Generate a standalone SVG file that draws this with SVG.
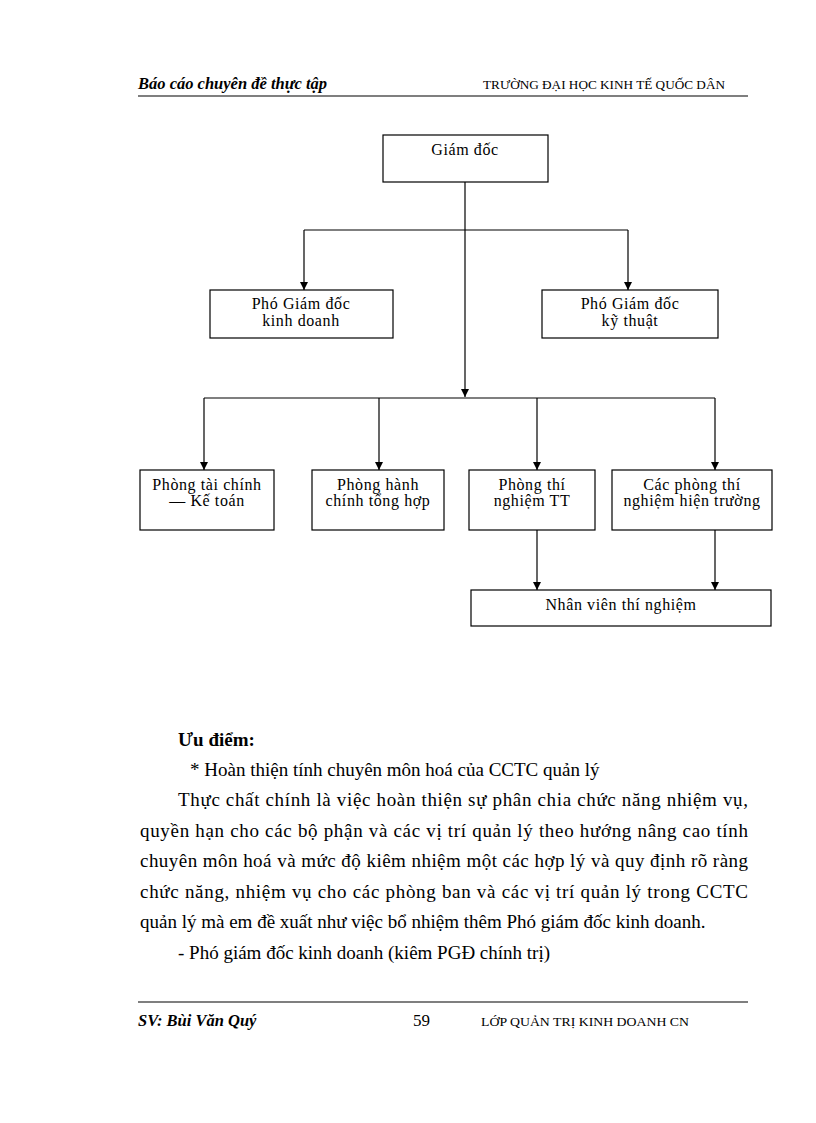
<svg xmlns="http://www.w3.org/2000/svg" width="816" height="1123" viewBox="0 0 816 1123">
<defs>
<marker id="arr" markerWidth="8" markerHeight="8" refX="8" refY="4" orient="auto" markerUnits="userSpaceOnUse" viewBox="0 0 8 8">
<path d="M0,0 L8,4 L0,8 Z" fill="#000"/>
</marker>
</defs>
<style>
.box{fill:#fff;stroke:#000;stroke-width:1.2}
.lbl{font-family:"Liberation Serif",serif;font-size:16px;letter-spacing:0.6px;fill:#000;text-anchor:middle}
.con{stroke:#000;stroke-width:1.2;fill:none}
.body{font-family:"Liberation Serif",serif;font-size:19px;fill:#000}
.hdr{font-family:"Liberation Serif",serif;fill:#000}
.rule{stroke:#000;stroke-width:1.2}
</style>
<rect width="816" height="1123" fill="#fff"/>
<g id="header">
<text class="hdr" x="138" y="89" font-size="16.5" font-weight="bold" font-style="italic">Báo cáo chuyên đề thực tập</text>
<text class="hdr" x="483" y="89" font-size="12.5" textLength="242" lengthAdjust="spacingAndGlyphs">TRƯỜNG ĐẠI HỌC KINH TẾ QUỐC DÂN</text>
<line class="rule" x1="138" y1="96" x2="748" y2="96"/>
</g>
<g id="connectors">
<line class="con" x1="465" y1="182" x2="465" y2="397" marker-end="url(#arr)"/>
<line class="con" x1="304" y1="230" x2="628" y2="230"/>
<line class="con" x1="304" y1="230" x2="304" y2="290" marker-end="url(#arr)"/>
<line class="con" x1="628" y1="230" x2="628" y2="290" marker-end="url(#arr)"/>
<line class="con" x1="204" y1="398" x2="715" y2="398"/>
<line class="con" x1="204" y1="398" x2="204" y2="470" marker-end="url(#arr)"/>
<line class="con" x1="379" y1="398" x2="379" y2="470" marker-end="url(#arr)"/>
<line class="con" x1="537" y1="398" x2="537" y2="470" marker-end="url(#arr)"/>
<line class="con" x1="715" y1="398" x2="715" y2="470" marker-end="url(#arr)"/>
<line class="con" x1="537" y1="530" x2="537" y2="590" marker-end="url(#arr)"/>
<line class="con" x1="715" y1="530" x2="715" y2="590" marker-end="url(#arr)"/>
</g>
<g id="giam-doc">
<rect class="box" x="383" y="135" width="165" height="47"/>
<text class="lbl" x="465" y="155">Giám đốc</text>
</g>
<g id="pgd-kinh-doanh">
<rect class="box" x="210" y="290" width="183" height="48"/>
<text class="lbl" x="301" y="309">Phó Giám đốc</text>
<text class="lbl" x="301" y="326">kinh doanh</text>
</g>
<g id="pgd-ky-thuat">
<rect class="box" x="542" y="290" width="176" height="48"/>
<text class="lbl" x="630" y="309">Phó Giám đốc</text>
<text class="lbl" x="630" y="326">kỹ thuật</text>
</g>
<g id="phong-tai-chinh">
<rect class="box" x="140" y="470" width="134" height="60"/>
<text class="lbl" x="207" y="490">Phòng tài chính</text>
<text class="lbl" x="207" y="506">— Kế toán</text>
</g>
<g id="phong-hanh-chinh">
<rect class="box" x="312" y="470" width="132" height="60"/>
<text class="lbl" x="378" y="490">Phòng hành</text>
<text class="lbl" x="378" y="506">chính tổng hợp</text>
</g>
<g id="phong-thi-nghiem-tt">
<rect class="box" x="469" y="470" width="126" height="60"/>
<text class="lbl" x="532" y="490">Phòng thí</text>
<text class="lbl" x="532" y="506">nghiệm  TT</text>
</g>
<g id="phong-thi-nghiem-hien-truong">
<rect class="box" x="612" y="470" width="160" height="60"/>
<text class="lbl" x="692" y="490">Các phòng thí</text>
<text class="lbl" x="692" y="506" letter-spacing="0">nghiệm hiện trường</text>
</g>
<g id="nhan-vien">
<rect class="box" x="471" y="590" width="300" height="36"/>
<text class="lbl" x="621" y="610">Nhân viên thí nghiệm</text>
</g>
<g id="body-text">
<text class="body" x="178" y="746" font-weight="bold">Ưu điểm:</text>
<text class="body" x="190" y="776">* Hoàn thiện tính chuyên môn hoá của CCTC quản lý</text>
<text class="body" x="178" y="806" textLength="570" lengthAdjust="spacing">Thực chất chính là việc hoàn thiện sự phân chia chức năng nhiệm vụ,</text>
<text class="body" x="140" y="837" textLength="608" lengthAdjust="spacing">quyền hạn cho các bộ phận và các vị trí quản lý theo hướng nâng cao tính</text>
<text class="body" x="140" y="867" textLength="608" lengthAdjust="spacing">chuyên môn hoá và mức độ kiêm nhiệm một các hợp lý và quy định rõ ràng</text>
<text class="body" x="140" y="898" textLength="608" lengthAdjust="spacing">chức năng, nhiệm vụ cho các phòng ban và các vị trí quản lý trong CCTC</text>
<text class="body" x="140" y="928">quản lý mà em đề xuất như việc bổ nhiệm thêm Phó giám đốc kinh doanh.</text>
<text class="body" x="178" y="959">- Phó giám đốc kinh doanh (kiêm PGĐ chính trị)</text>
</g>
<g id="footer">
<line class="rule" x1="138" y1="1002" x2="748" y2="1002"/>
<text class="hdr" x="138" y="1026" font-size="16.5" font-weight="bold" font-style="italic">SV: Bùi Văn Quý</text>
<text class="hdr" x="413" y="1026" font-size="17">59</text>
<text class="hdr" x="481" y="1026" font-size="12.5" textLength="208" lengthAdjust="spacingAndGlyphs">LỚP QUẢN TRỊ KINH DOANH CN</text>
</g>
</svg>
